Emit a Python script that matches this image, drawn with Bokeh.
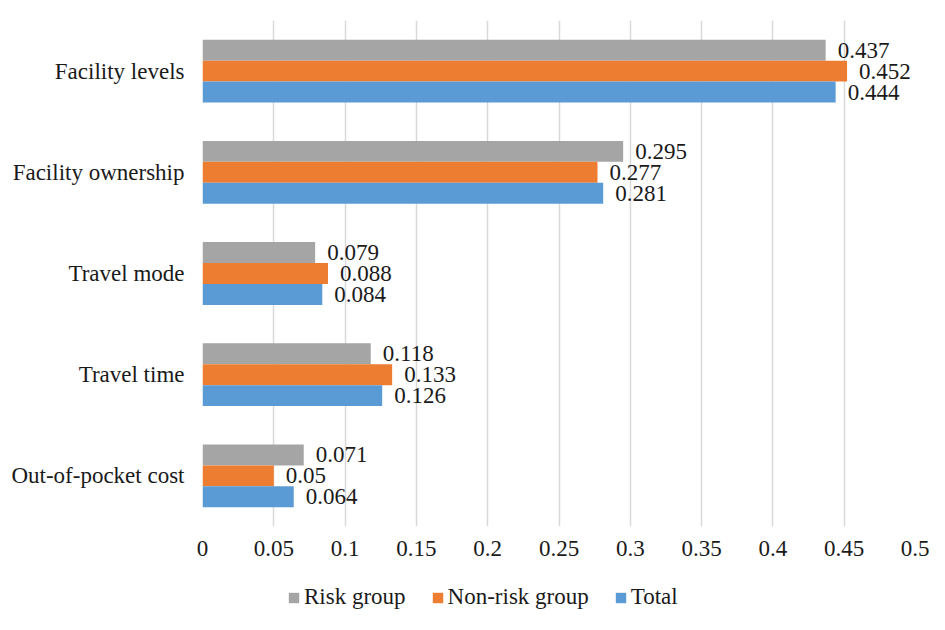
from bokeh.plotting import figure
from bokeh.layouts import column
from bokeh.models import ColumnDataSource, FixedTicker, Legend, LegendItem, LabelSet
from bokeh.transform import dodge
from bokeh.embed import file_html
from bokeh.resources import INLINE

categories = ["Facility levels", "Facility ownership", "Travel mode", "Travel time", "Out-of-pocket cost"]
risk_group = [0.437, 0.295, 0.079, 0.118, 0.071]
non_risk_group = [0.452, 0.277, 0.088, 0.133, 0.05]
total = [0.444, 0.281, 0.084, 0.126, 0.064]
risk_labels = ["0.437", "0.295", "0.079", "0.118", "0.071"]
non_risk_labels = ["0.452", "0.277", "0.088", "0.133", "0.05"]
total_labels = ["0.444", "0.281", "0.084", "0.126", "0.064"]
series_names = ["Risk group", "Non-risk group", "Total"]
tick_values = [0, 0.05, 0.1, 0.15, 0.2, 0.25, 0.3, 0.35, 0.4, 0.45, 0.5]
tick_labels = ["0", "0.05", "0.1", "0.15", "0.2", "0.25", "0.3", "0.35", "0.4", "0.45", "0.5"]

COLORS = ["#A5A5A5", "#ED7D31", "#5B9BD5"]
FONT = "Liberation Serif"
FS = "23px"
TXT = "#1a1a1a"

src = ColumnDataSource(dict(cat=categories, risk=risk_group, nonrisk=non_risk_group, total=total,
                            rl=risk_labels, nl=non_risk_labels, tl=total_labels))

p = figure(width=929, height=575, y_range=list(reversed(categories)), x_range=(0, 0.5),
           output_backend="svg", toolbar_location=None,
           min_border_left=202, min_border_right=14, min_border_top=20, min_border_bottom=49)

bh = 0.207
offsets = [bh, 0, -bh]
cols = ["risk", "nonrisk", "total"]
labs = ["rl", "nl", "tl"]
for col, off, c in zip(cols, offsets, COLORS):
    p.hbar(y=dodge("cat", off, range=p.y_range), right=col, left=0, height=bh, source=src,
           fill_color=c, line_color=None)

for col, lab, off in zip(cols, labs, offsets):
    ls = LabelSet(x=col, y=dodge("cat", off, range=p.y_range), text=lab, source=src,
                  x_offset=12, text_baseline="middle", text_align="left",
                  text_font=FONT, text_font_size=FS, text_color=TXT)
    p.add_layout(ls)

p.xaxis.ticker = FixedTicker(ticks=tick_values)
p.xaxis.major_label_overrides = dict(zip(tick_values, tick_labels))
for ax in (p.xaxis, p.yaxis):
    ax.axis_line_color = None
    ax.major_tick_line_color = None
    ax.minor_tick_line_color = None
    ax.major_label_text_font = FONT
    ax.major_label_text_font_size = FS
    ax.major_label_text_color = TXT
p.xaxis.major_label_standoff = 8
p.yaxis.major_label_standoff = 12

p.xgrid.grid_line_color = "#D9D9D9"
p.xgrid.grid_line_width = 1.5
p.ygrid.grid_line_color = None
p.outline_line_color = None

# legend strip below the chart (its frame is aligned with the chart frame by the column)
pl = figure(width=929, height=39, x_range=(0, 1), y_range=(0, 1),
            output_backend="svg", toolbar_location=None,
            min_border_left=0, min_border_right=0, min_border_top=0, min_border_bottom=0)
pl.axis.visible = False
pl.grid.grid_line_color = None
pl.outline_line_color = None
items = []
for name, c in zip(series_names, COLORS):
    # legend-swatch renderer, kept outside the visible range of this strip
    r = pl.hbar(y=[-5], right=[0.1], left=0, height=0.5, fill_color=c, line_color=None)
    items.append(LegendItem(label=name, renderers=[r]))
legend = Legend(items=items, orientation="horizontal", location=(85, 4),
                glyph_width=13, glyph_height=13, label_standoff=4, spacing=25,
                label_text_font=FONT, label_text_font_size=FS, label_text_color=TXT,
                border_line_color=None, background_fill_alpha=0, padding=0, margin=0)
pl.add_layout(legend, "center")

layout = column(p, pl, spacing=0)
open("out.html", "w").write(file_html(layout, INLINE))
